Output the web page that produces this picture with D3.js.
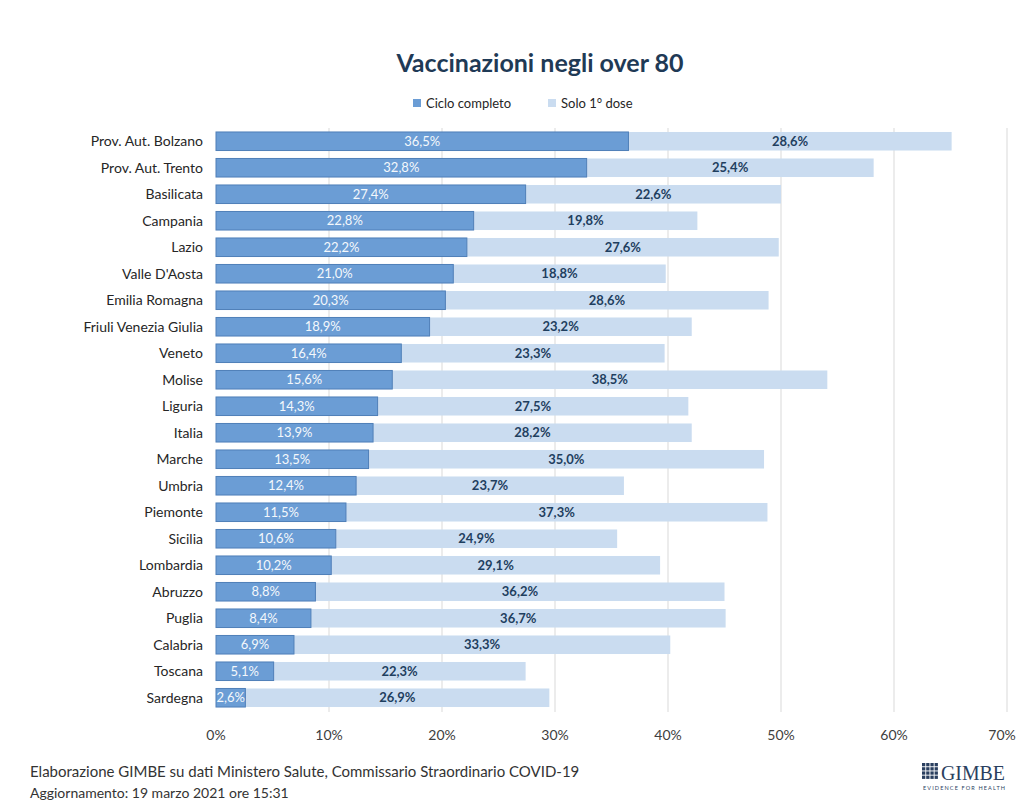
<!DOCTYPE html>
<html>
<head>
<meta charset="utf-8">
<script src="https://cdn.jsdelivr.net/npm/d3@7"></script>
<style>
  body { margin: 0; background: #fff; }
  svg { font-family: Lato, "Open Sans", sans-serif; }
</style>
</head>
<body>
<div id="chart"></div>
<script>
// regioni, dall'alto in basso
const regions = ["Prov. Aut. Bolzano", "Prov. Aut. Trento", "Basilicata", "Campania", "Lazio",
    "Valle D'Aosta", "Emilia Romagna", "Friuli Venezia Giulia", "Veneto", "Molise", "Liguria",
    "Italia", "Marche", "Umbria", "Piemonte", "Sicilia", "Lombardia", "Abruzzo", "Puglia",
    "Calabria", "Toscana", "Sardegna"];
const cicloCompleto = [36.5, 32.8, 27.4, 22.8, 22.2, 21.0, 20.3, 18.9, 16.4, 15.6, 14.3,
    13.9, 13.5, 12.4, 11.5, 10.6, 10.2, 8.8, 8.4, 6.9, 5.1, 2.6];
const soloPrimaDose = [28.6, 25.4, 22.6, 19.8, 27.6, 18.8, 28.6, 23.2, 23.3, 38.5, 27.5,
    28.2, 35.0, 23.7, 37.3, 24.9, 29.1, 36.2, 36.7, 33.3, 22.3, 26.9];
const xTicks = [0, 10, 20, 30, 40, 50, 60, 70];
const seriesNames = ["Ciclo completo", "Solo 1\u00b0 dose"];

const width = 1018;
const height = 800;
const darkBlue = "#6b9dd5";
const lightBlue = "#cadcf0";

const svg = d3.select("#chart").append("svg")
    .attr("width", width)
    .attr("height", height);

const x = d3.scaleLinear().domain([0, 70]).range([216, 1007]);
const y = d3.scaleBand().domain(regions).range([128, 711]).paddingInner(0.3).paddingOuter(0.15);

// griglia verticale
svg.append("g").selectAll("line")
    .data(xTicks.slice(1))
    .enter().append("line")
    .attr("x1", d => x(d)).attr("x2", d => x(d))
    .attr("y1", 128).attr("y2", 712)
    .attr("stroke", "#d9d9d9")
    .attr("stroke-width", 1);

// etichette asse x (l'ultima un po' rientrata per non uscire dal bordo)
svg.append("g").selectAll("text")
    .data(xTicks)
    .enter().append("text")
    .attr("x", d => Math.min(x(d), width - 16))
    .attr("y", 740)
    .attr("text-anchor", "middle")
    .attr("font-size", 14)
    .attr("fill", "#404040")
    .text(d => d + "%");

const rows = regions.map((r, i) => ({ region: r, a: cicloCompleto[i], b: soloPrimaDose[i] }));

const row = svg.append("g").selectAll("g")
    .data(rows)
    .enter().append("g");

row.append("rect")
    .attr("x", d => x(d.a))
    .attr("y", d => y(d.region))
    .attr("width", d => x(d.a + d.b) - x(d.a))
    .attr("height", y.bandwidth())
    .attr("fill", lightBlue);

row.append("rect")
    .attr("x", x(0))
    .attr("y", d => y(d.region))
    .attr("width", d => x(d.a) - x(0))
    .attr("height", y.bandwidth())
    .attr("fill", darkBlue)
    .attr("stroke", "#4f7fb8")
    .attr("stroke-width", 1);

const fmt = v => v.toFixed(1).replace(".", ",") + "%";

row.append("text")
    .attr("x", d => (x(0) + x(d.a)) / 2)
    .attr("y", d => y(d.region) + y.bandwidth() / 2)
    .attr("dy", "0.35em")
    .attr("text-anchor", "middle")
    .attr("font-size", 13)
    .attr("fill", "#f4f8fc")
    .text(d => fmt(d.a));

row.append("text")
    .attr("x", d => (x(d.a) + x(d.a + d.b)) / 2)
    .attr("y", d => y(d.region) + y.bandwidth() / 2)
    .attr("dy", "0.35em")
    .attr("text-anchor", "middle")
    .attr("font-size", 13)
    .attr("font-weight", "bold")
    .attr("fill", "#1f3f5f")
    .text(d => fmt(d.b));

row.append("text")
    .attr("x", 203)
    .attr("y", d => y(d.region) + y.bandwidth() / 2)
    .attr("dy", "0.35em")
    .attr("text-anchor", "end")
    .attr("font-size", 14)
    .attr("fill", "#262626")
    .text(d => d.region);

// titolo
svg.append("text")
    .attr("x", 540)
    .attr("y", 72)
    .attr("text-anchor", "middle")
    .attr("font-size", 25)
    .attr("font-weight", "bold")
    .attr("fill", "#1f3a56")
    .text("Vaccinazioni negli over 80");

// legenda
const legend = svg.append("g");
const legendX = [413, 548];
[darkBlue, lightBlue].forEach((c, i) => {
    legend.append("rect")
        .attr("x", legendX[i]).attr("y", 99)
        .attr("width", 8).attr("height", 8)
        .attr("fill", c);
    legend.append("text")
        .attr("x", legendX[i] + 13).attr("y", 103)
        .attr("dy", "0.35em")
        .attr("font-size", 13)
        .attr("fill", "#262626")
        .text(seriesNames[i]);
});

// note
svg.append("text")
    .attr("x", 30).attr("y", 777)
    .attr("font-size", 15)
    .attr("fill", "#333")
    .text("Elaborazione GIMBE su dati Ministero Salute, Commissario Straordinario COVID-19");
svg.append("text")
    .attr("x", 30).attr("y", 798)
    .attr("font-size", 14)
    .attr("fill", "#333")
    .text("Aggiornamento: 19 marzo 2021 ore 15:31");

// logo GIMBE
const logo = svg.append("g").attr("transform", "translate(922,763)");
for (let r = 0; r < 4; r++) {
    for (let c = 0; c < 4; c++) {
        logo.append("rect")
            .attr("x", c * 4.2).attr("y", r * 4.2)
            .attr("width", 3.3).attr("height", 3.3)
            .attr("fill", "#2a3f5f");
    }
}
logo.append("text")
    .attr("x", 19).attr("y", 17)
    .attr("font-family", "Liberation Serif, serif")
    .attr("font-size", 22)
    .attr("textLength", 64)
    .attr("lengthAdjust", "spacingAndGlyphs")
    .attr("fill", "#2a3f5f")
    .text("GIMBE");
logo.append("text")
    .attr("x", 1).attr("y", 27)
    .attr("font-size", 5.5)
    .attr("textLength", 82)
    .attr("fill", "#2a3f5f")
    .text("EVIDENCE FOR HEALTH");
</script>
</body>
</html>
